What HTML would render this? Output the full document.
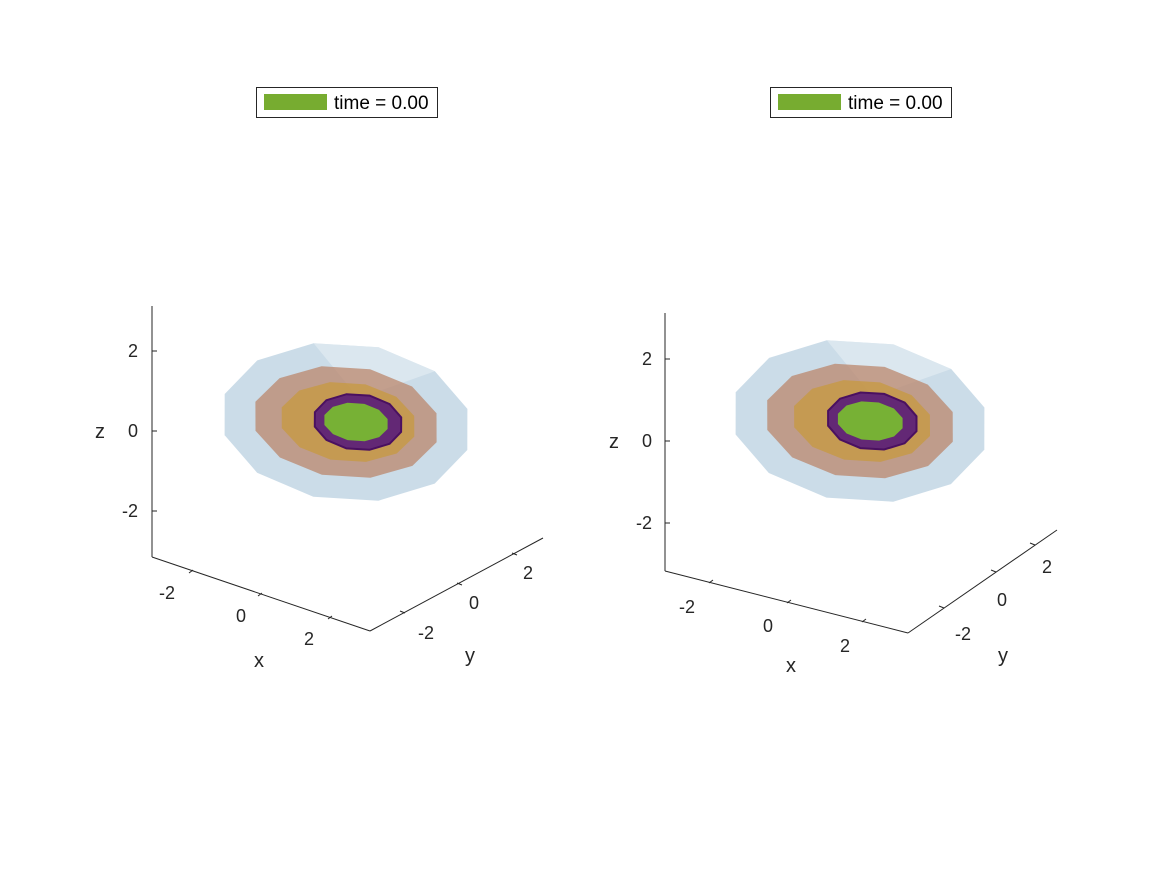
<!DOCTYPE html>
<html><head><meta charset="utf-8"><style>
html,body{margin:0;padding:0;background:#fff;}
svg{display:block;font-family:"Liberation Sans",Arial,sans-serif;}
</style></head><body>
<svg id="fig" width="1167" height="875" viewBox="0 0 1167 875"></svg>
<script>
const tickValues=[-2,0,2];
const tickLabels=["-2","0","2"];
const shellNames=["outer-shell","brown-shell","gold-shell","purple-shell","green-core"];
const shellRx=[3.15,2.35,1.72,1.12,0.82];
const shellRz=[1.98,1.4,1.0,0.7,0.48];
const shellDx=[0,0,0.05,0.3,0.25];
const shellFill=["#a9c4d8","#b98064","#c79a3a","#5e2277","#78b832"];
const shellOpacity=[0.6,0.7,0.7,0.95,0.95];
const legendText="time = 0.00";
const axesDefs=[
 {id:"left",zx:152,zTop:306,zBot:557,z0:431,zs:40,xEnd:[370,631],yEnd:[543,538],
  xTicks:[[189,573],[258,596],[328,619]],yTicks:[[405,613],[462,585],[517,555]],
  xLab:[[159,599],[236,622],[304,645]],yLab:[[418,639],[469,609],[523,579]],
  zLabX:138,zTitle:[100,438],xTitle:[259,667],yTitle:[470,662],cx:346,cz:422,leg:256},
 {id:"right",zx:665,zTop:313,zBot:571,z0:441,zs:41,xEnd:[908,633],yEnd:[1057,530],
  xTicks:[[709,583],[787,603],[862,622]],yTicks:[[944,608],[996,572],[1035,545]],
  xLab:[[679,613],[763,632],[840,652]],yLab:[[955,640],[997,606],[1042,573]],
  zLabX:652,zTitle:[614,448],xTitle:[791,672],yTitle:[1003,662],cx:860,cz:421,leg:770}
];
const NS="http://www.w3.org/2000/svg";
const svg=document.getElementById('fig');
function mk(tag,attrs,parent){const e=document.createElementNS(NS,tag);for(const k in attrs)e.setAttribute(k,attrs[k]);(parent||svg).appendChild(e);return e;}
axesDefs.forEach(a=>{
 const g=mk('g',{});
 
 
 const zPix=v=>a.z0-v*a.zs;
 shellRx.forEach((rx,i)=>{
  const cx=a.cx+shellDx[i]*a.zs, cy=a.cz, RX=rx*a.zs, RZ=shellRz[i]*a.zs, rot=0.1;
  let pts=[];const N=12;
  for(let k=0;k<N;k++){const t=k/N*2*Math.PI+0.2;const ex=RX*Math.cos(t),ey=RZ*Math.sin(t);
   pts.push((cx+ex*Math.cos(rot)-ey*Math.sin(rot)).toFixed(1)+','+(cy+ex*Math.sin(rot)+ey*Math.cos(rot)).toFixed(1));}
  const p=mk('polygon',{points:pts.join(' '),fill:shellFill[i],'fill-opacity':shellOpacity[i],stroke:i==3?'#4a1060':'none','stroke-width':2},g);
  
  
  if(i==0){const h=mk('polygon',{points:pts.slice(8,11).join(' ')+' '+(cx+RX*0.1)+','+(cy-RZ*0.3),fill:'#e6eef4','fill-opacity':0.6},g);
   }
 });
 const ln=(x1,y1,x2,y2)=>mk('line',{x1,y1,x2,y2,stroke:'#262626','stroke-width':1},g);
 ln(a.zx,a.zTop,a.zx,a.zBot);
 ln(a.zx,a.zBot,a.xEnd[0],a.xEnd[1]);
 ln(a.xEnd[0],a.xEnd[1],a.yEnd[0],a.yEnd[1]);
 const txt=(x,y,s,anchor,size)=>{const t=mk('text',{x,y,'font-size':size,fill:'#262626','text-anchor':anchor},g);t.textContent=s;return t;};
 tickValues.forEach((v,i)=>{
  const y=zPix(v);ln(a.zx,y,a.zx+5,y);
  const t=txt(a.zLabX,y+6,tickLabels[i],'end',18);
  const [tx,ty]=a.xTicks[i];ln(tx,ty,tx+4,ty-3);
  const t2=txt(a.xLab[i][0],a.xLab[i][1],tickLabels[i],'start',18);
  const [ux,uy]=a.yTicks[i];ln(ux,uy,ux-5,uy-2);
  const t3=txt(a.yLab[i][0],a.yLab[i][1],tickLabels[i],'start',18);
 });
 const zt=txt(a.zTitle[0],a.zTitle[1],'z','middle',20);
 const xt=txt(a.xTitle[0],a.xTitle[1],'x','middle',20);
 const yt=txt(a.yTitle[0],a.yTitle[1],'y','middle',20);
 const lg=mk('g',{},svg);
 
 
 mk('rect',{x:a.leg+0.5,y:87.5,width:181,height:30,fill:'#fff',stroke:'#262626','stroke-width':1},lg);
 mk('rect',{x:a.leg+8,y:94,width:63,height:16,fill:'#77ac30'},lg);
 const lt=mk('text',{x:a.leg+78,y:109,'font-size':19,fill:'#000'},lg);lt.textContent=legendText;
 
 
});
</script>
</body></html>
